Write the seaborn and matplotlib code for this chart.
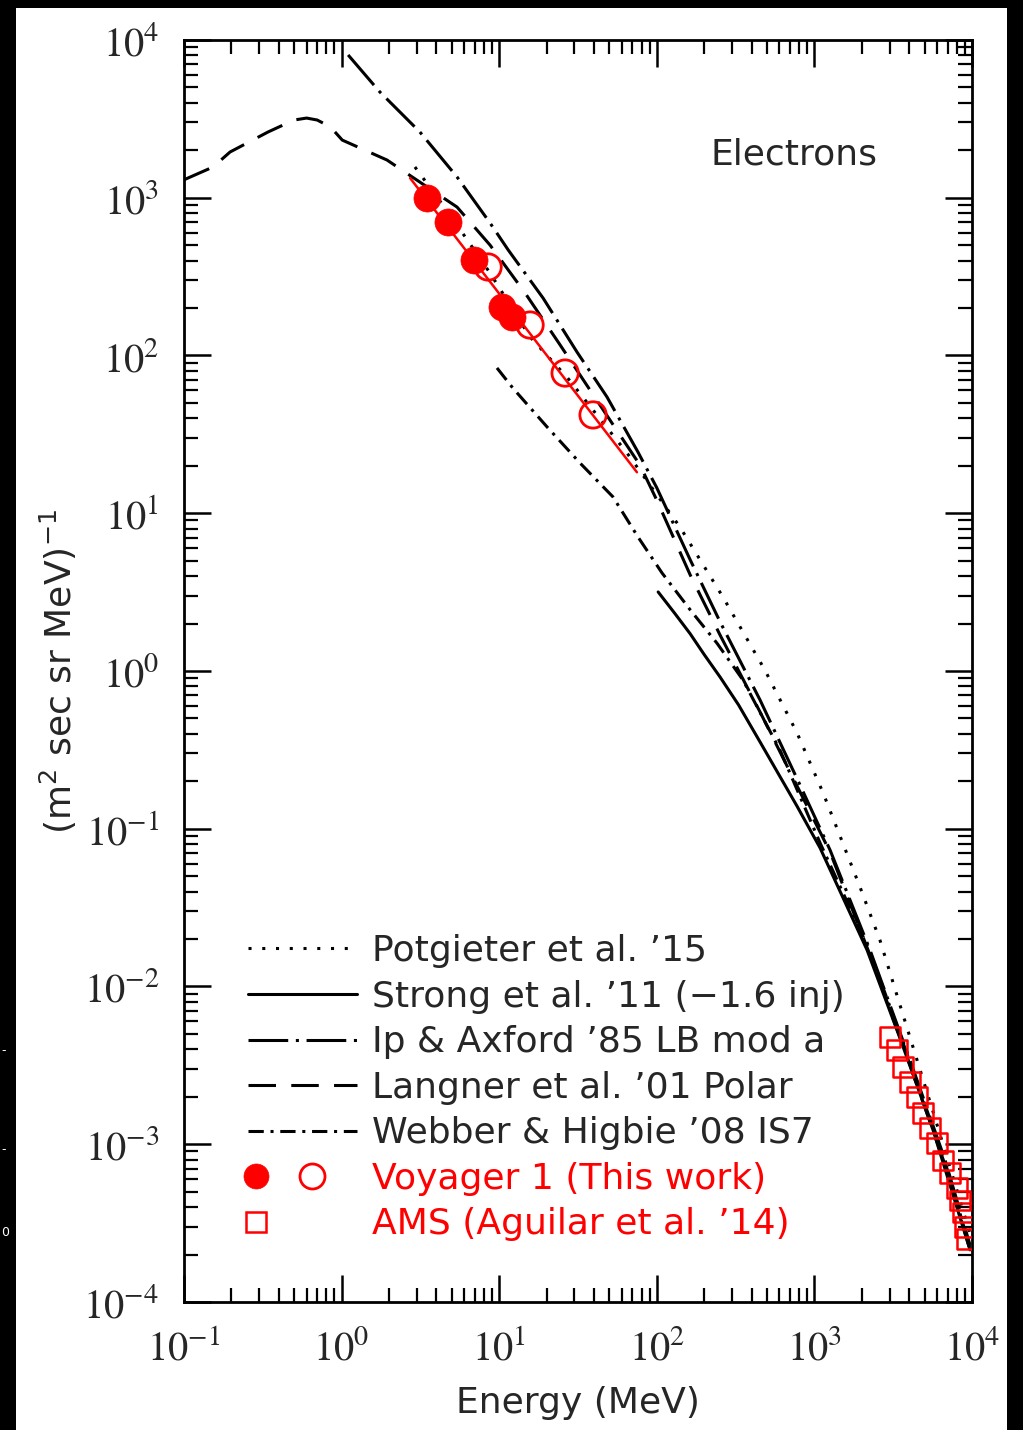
import numpy as np
import pandas as pd
import matplotlib
matplotlib.use("Agg")
import matplotlib.pyplot as plt
import seaborn as sns
from matplotlib.lines import Line2D
from matplotlib.patches import Rectangle
from matplotlib.legend_handler import HandlerBase
from matplotlib.ticker import LogLocator, NullFormatter

# ---------------- data ----------------
potgieter_E = [2.92, 4.88, 8.75, 15.7, 26.9, 64.7, 140, 263, 486, 776, 1135, 1945, 2605, 3490, 5820, 9710]
potgieter_J = [1567, 778, 333, 131, 73, 24.1, 8.2, 2.94, 1.01, 0.405, 0.169, 0.0428, 0.0197, 7.64e-3, 1.47e-3, 2.73e-4]

strong_E = [102, 130, 163, 200, 252, 330, 452, 776, 1087, 2160, 3490, 5660, 9710]
strong_J = [3.17, 2.32, 1.72, 1.27, 0.916, 0.610, 0.355, 0.139, 0.0755, 0.0170, 4.71e-3, 1.23e-3, 2.14e-4]

ip_E = [1.10, 1.75, 3.14, 5.40, 8.75, 11.4, 19.0, 31.2, 48.3, 76.0, 100, 163, 252, 452, 811, 1257, 2255, 4040, 6750, 9710]
ip_J = [8040, 4680, 2610, 1355, 692, 467, 231, 105, 54.6, 24.4, 14.5, 5.06, 2.05, 0.655, 0.189, 0.0733, 0.0170, 3.42e-3, 7.94e-4, 2.30e-4]

langner_E = [0.1, 0.153, 0.196, 0.341, 0.499, 0.6, 0.7, 0.85, 1.01, 1.94, 5.40, 8.75, 14.6, 24.3, 43.6, 78.2, 100, 163, 252, 452, 811, 1257, 2255, 4040, 6750, 9710]
langner_J = [1300, 1567, 1950, 2610, 3110, 3200, 3110, 2810, 2320, 1735, 873, 501, 249, 117, 48.5, 20.2, 12.1, 4.06, 1.69, 0.550, 0.171, 0.0712, 0.0158, 3.18e-3, 7.38e-4, 2.14e-4]

webber_E = [9.68, 12.2, 20.1, 32.6, 52.7, 76.0, 108, 163, 241, 352, 605, 1087, 2255, 4040, 6750, 9710]
webber_J = [83.4, 62.2, 35.3, 20.8, 12.7, 7.07, 4.18, 2.44, 1.50, 0.877, 0.315, 0.0812, 0.0166, 3.32e-3, 7.71e-4, 2.20e-4]

voy_filled_E = [3.48, 4.73, 6.92, 10.4, 12.05]
voy_filled_J = [996, 701, 403, 203, 175]
voy_open_E = [8.5, 15.7, 26.2, 39.4]
voy_open_J = [364, 156, 77.4, 42]
voy_fit_E = [2.72, 74.8]
voy_fit_J = [1333, 18.2]

ams_E = [3020, 3340, 3650, 4040, 4480, 4890, 5420, 6000, 6550, 7250, 8040, 8400, 8770, 9030, 9300]
ams_J = [4.79e-3, 3.96e-3, 3.09e-3, 2.48e-3, 2.0e-3, 1.58e-3, 1.27e-3, 1.02e-3, 7.9e-4, 6.6e-4, 5.3e-4, 4.4e-4, 3.7e-4, 3.0e-4, 2.5e-4]

x_ticks = [1e-1, 1e0, 1e1, 1e2, 1e3, 1e4]
x_ticklabels = [r"$10^{-1}$", r"$10^{0}$", r"$10^{1}$", r"$10^{2}$", r"$10^{3}$", r"$10^{4}$"]
y_ticks = [1e-4, 1e-3, 1e-2, 1e-1, 1e0, 1e1, 1e2, 1e3, 1e4]
y_ticklabels = [r"$10^{-4}$", r"$10^{-3}$", r"$10^{-2}$", r"$10^{-1}$", r"$10^{0}$",
                r"$10^{1}$", r"$10^{2}$", r"$10^{3}$", r"$10^{4}$"]

legend_labels = ["Potgieter et al. \u201915", "Strong et al. \u201911 (\u22121.6 inj)",
                 "Ip & Axford \u201985 LB mod a", "Langner et al. \u201901 Polar",
                 "Webber & Higbie \u201908 IS7", "Voyager 1 (This work)",
                 "AMS (Aguilar et al. \u201914)"]

# ---------------- style ----------------
sns.set_style("ticks")
plt.rcParams["font.family"] = ["DejaVu Sans"]
plt.rcParams["mathtext.fontset"] = "stix"

FS = 26
LW = 2.2
ls_pot = (0, (1, 3.5))
ls_strong = "-"
ls_ip = (0, (13, 2.5, 1, 2.5))
ls_lang = (0, (9, 5))
ls_web = (0, (5, 2.2, 1, 2.2))

fig = plt.figure(figsize=(10.23, 14.30), dpi=100)
fig.patch.set_facecolor("black")
fig.add_artist(Rectangle((16 / 1023, 0), (1007 - 16) / 1023, 1 - 8 / 1430,
                         transform=fig.transFigure, facecolor="white",
                         edgecolor="none", zorder=-10))
for yy, s in [(1051, "-"), (1150, "-"), (1233, "0")]:
    fig.text(0.001, 1 - yy / 1430, s, color="white", fontsize=9, va="center", ha="left")

ax = fig.add_axes([184 / 1023, 1 - 1302 / 1430, (972 - 184) / 1023, (1302 - 40) / 1430])
ax.set_facecolor("white")
ax.set_xscale("log")
ax.set_yscale("log")

def curve(E, J, ls, color="black", lw=LW):
    sns.lineplot(x=E, y=J, ax=ax, color=color, linewidth=lw, linestyle=ls,
                 sort=False, estimator=None, legend=False)

curve(potgieter_E, potgieter_J, ls_pot)
curve(strong_E, strong_J, ls_strong)
curve(ip_E, ip_J, ls_ip)
curve(langner_E, langner_J, ls_lang)
curve(webber_E, webber_J, ls_web)
curve(voy_fit_E, voy_fit_J, "-", color="red", lw=1.8)

sns.scatterplot(x=voy_filled_E, y=voy_filled_J, ax=ax, marker="o", s=380,
                color="red", edgecolor="red", linewidth=0.5, legend=False, zorder=3)
sns.scatterplot(x=voy_open_E, y=voy_open_J, ax=ax, marker="o", s=360,
                facecolor="none", edgecolor="red", linewidth=2.0, legend=False, zorder=3)
sns.scatterplot(x=ams_E, y=ams_J, ax=ax, marker="s", s=200,
                facecolor="none", edgecolor="red", linewidth=1.8, legend=False, zorder=3)

ax.set_xlim(1e-1, 1e4)
ax.set_ylim(1e-4, 1e4)
ax.set_xticks(x_ticks, x_ticklabels)
ax.set_yticks(y_ticks, y_ticklabels)
ax.xaxis.set_minor_locator(LogLocator(base=10, subs=np.arange(2, 10), numticks=50))
ax.yaxis.set_minor_locator(LogLocator(base=10, subs=np.arange(2, 10), numticks=50))
ax.xaxis.set_minor_formatter(NullFormatter())
ax.yaxis.set_minor_formatter(NullFormatter())

for sp in ax.spines.values():
    sp.set_visible(True)
    sp.set_linewidth(2.0)
    sp.set_color("black")
ax.tick_params(which="both", direction="in", top=True, right=True, color="black")
ax.tick_params(which="major", length=19.5, width=1.8, labelsize=29)
ax.tick_params(which="minor", length=10, width=1.6)
ax.tick_params(axis="x", which="major", pad=19)
ax.tick_params(axis="y", which="major", pad=18)

ax.set_xlabel("Energy (MeV)", fontsize=FS, labelpad=13)
ax.set_ylabel("(m$^2$ sec sr MeV)$^{-1}$", fontsize=FS, labelpad=3,
              math_fontfamily="dejavusans")

ax.text(0.774, 0.909, "Electrons", transform=ax.transAxes, fontsize=FS,
        ha="center", va="center")

# ---------------- legend ----------------
class FixedMarkers(HandlerBase):
    def __init__(self, fracs, **kw):
        super().__init__(**kw)
        self.fracs = fracs

    def create_artists(self, legend, orig_handle, xdescent, ydescent, width,
                       height, fontsize, trans):
        arts = []
        for h, f in zip(orig_handle, self.fracs):
            ln = Line2D([-xdescent + f * width], [height / 2 - ydescent],
                        linestyle="none", marker=h.get_marker(),
                        markersize=h.get_markersize(),
                        markerfacecolor=h.get_markerfacecolor(),
                        markeredgecolor=h.get_markeredgecolor(),
                        markeredgewidth=h.get_markeredgewidth())
            ln.set_transform(trans)
            arts.append(ln)
        return arts

h_pot = Line2D([], [], color="black", lw=LW, linestyle=ls_pot)
h_strong = Line2D([], [], color="black", lw=LW, linestyle=ls_strong)
h_ip = Line2D([], [], color="black", lw=LW, linestyle=ls_ip)
h_lang = Line2D([], [], color="black", lw=LW, linestyle=ls_lang)
h_web = Line2D([], [], color="black", lw=LW, linestyle=ls_web)
m_fill = Line2D([], [], linestyle="none", marker="o", markersize=18,
                markerfacecolor="red", markeredgecolor="red", markeredgewidth=0.5)
m_open = Line2D([], [], linestyle="none", marker="o", markersize=18,
                markerfacecolor="none", markeredgecolor="red", markeredgewidth=2.0)
m_sq = Line2D([], [], linestyle="none", marker="s", markersize=14,
              markerfacecolor="none", markeredgecolor="red", markeredgewidth=1.8)
h_voy = (m_fill, m_open)
h_ams = (m_sq,)

leg = ax.legend([h_pot, h_strong, h_ip, h_lang, h_web, h_voy, h_ams], legend_labels,
                handler_map={h_voy: FixedMarkers([0.07, 0.59]), h_ams: FixedMarkers([0.07])},
                loc="upper left", bbox_to_anchor=(0.0812, 0.2915), frameon=False,
                fontsize=FS, handlelength=3.02, handletextpad=0.415,
                labelspacing=0.32, borderpad=0, borderaxespad=0)
for t in leg.get_texts()[5:]:
    t.set_color("red")

fig.savefig("out.png", dpi=100, facecolor=fig.get_facecolor())
